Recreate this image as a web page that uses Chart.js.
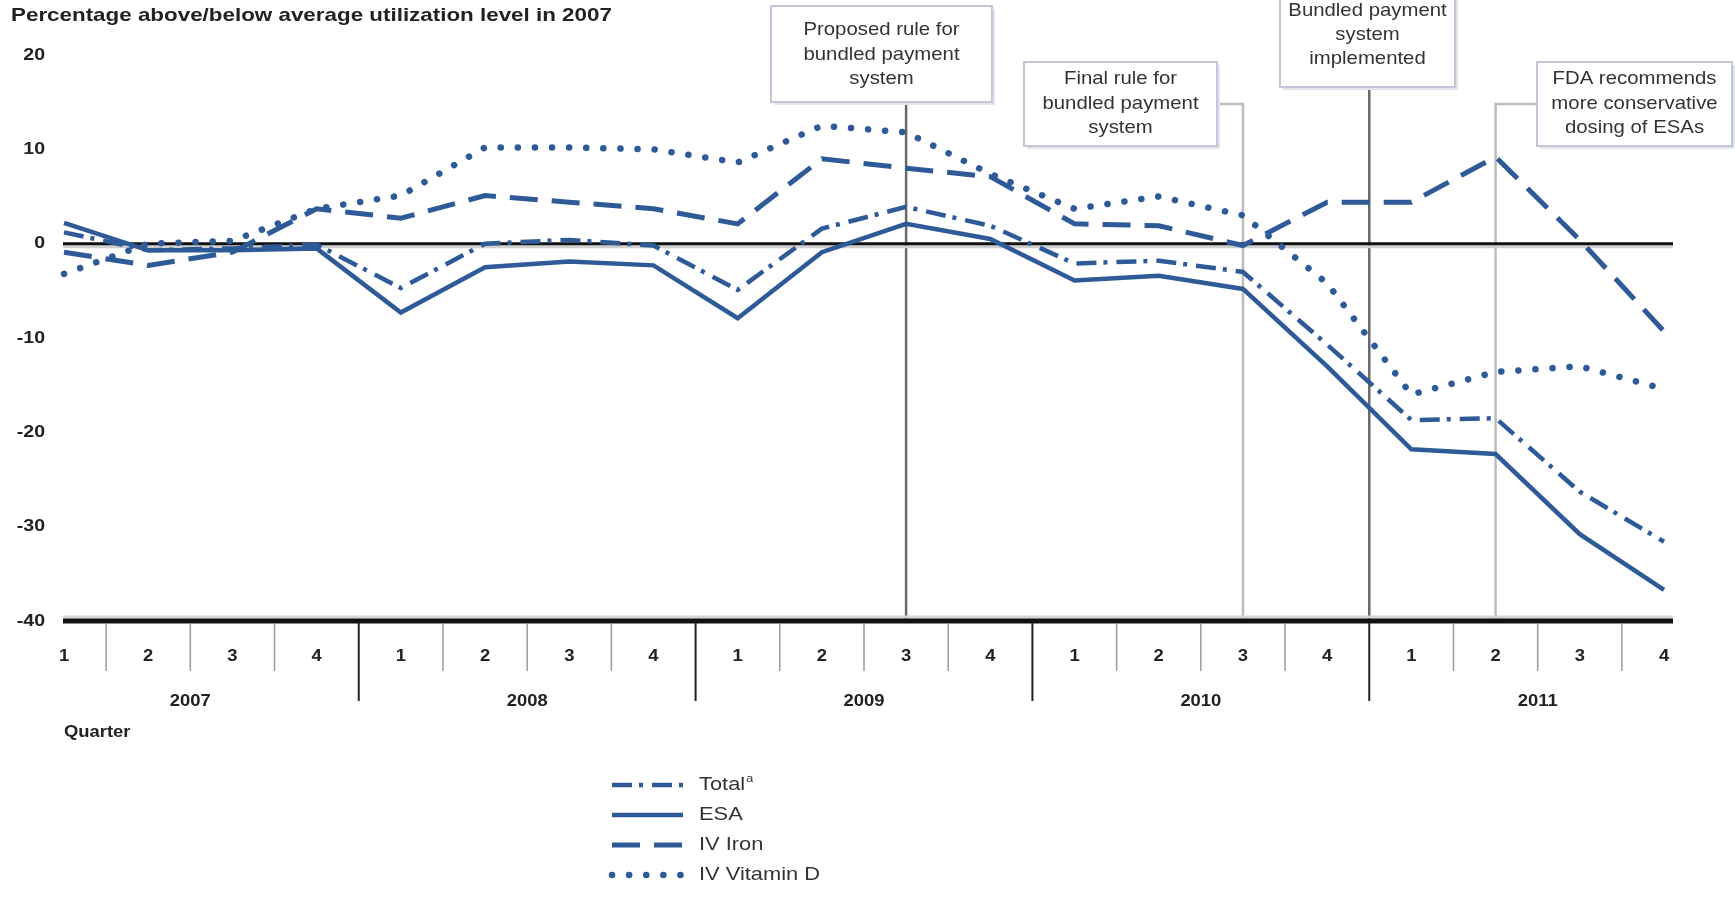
<!DOCTYPE html>
<html>
<head>
<meta charset="utf-8">
<title>Utilization of dialysis drugs, 2007-2011</title>
<script src="https://cdn.jsdelivr.net/npm/chart.js@4.4.1/dist/chart.umd.min.js"></script>
<style>
  html, body { margin: 0; padding: 0; background: #fff; }
  canvas { display: block; }
</style>
</head>
<body>
<canvas id="utilChart" width="1735" height="899"></canvas>
<script>
// datos (porcentaje sobre/bajo el promedio de 2007)
const quarterLabels = ['1', '2', '3', '4', '1', '2', '3', '4', '1', '2', '3', '4',
                       '1', '2', '3', '4', '1', '2', '3', '4'];
const yearLabels = ['2007', '2008', '2009', '2010', '2011'];
const yTicks = [20, 10, 0, -10, -20, -30, -40];

const totalValues = [1.2, -0.7, -0.5, -0.1, -4.7, 0, 0.4, -0.2, -4.9, 1.6,
                     3.9, 1.9, -2.1, -1.8, -3.0, -10.7, -18.7, -18.5, -26.3, -31.6];
const esaValues = [2.2, -0.7, -0.7, -0.5, -7.3, -2.5, -1.9, -2.3, -7.9, -0.9,
                   2.1, 0.5, -3.9, -3.4, -4.8, -13.0, -21.8, -22.3, -30.8, -36.7];
const ironValues = [-0.9, -2.3, -0.9, 3.7, 2.7, 5.1, 4.4, 3.7, 2.1, 9.0,
                    8.0, 7.1, 2.1, 1.9, -0.2, 4.4, 4.4, 9.2, 0.4, -9.3];
const vitaminDValues = [-3.2, 0, 0.3, 3.7, 5.1, 10.2, 10.2, 10.0, 8.6, 12.5,
                        11.8, 7.4, 3.7, 5.0, 3.0, -4.2, -16.0, -13.6, -13.0, -15.4];

// eventos (posición en trimestres desde 2007 T1)
const eventLines = [
    ['Proposed rule for', 'bundled payment', 'system'],
    ['Final rule for', 'bundled payment', 'system'],
    ['Bundled payment', 'system', 'implemented'],
    ['FDA recommends', 'more conservative', 'dosing of ESAs']
];
const eventAt = [10, 14, 15.5, 17];

const BLUE = '#2e5a98';
const FONT = '"Liberation Sans", Arial, sans-serif';

// texto con estiramiento horizontal como en la imagen original
function drawText(ctx, str, x, y, opts) {
    const sx = opts.sx || 1.17;
    ctx.save();
    ctx.font = opts.font;
    ctx.fillStyle = opts.color || '#222';
    ctx.textBaseline = 'middle';
    ctx.textAlign = 'left';
    const w = ctx.measureText(str).width * sx;
    let left = x;
    if (opts.align === 'center') left = x - w / 2;
    if (opts.align === 'right') left = x - w;
    ctx.translate(left, y);
    ctx.scale(sx, 1);
    ctx.fillText(str, 0, 0);
    ctx.restore();
    return w;
}

function line(ctx, x0, y0, x1, y1, color, width) {
    ctx.save();
    ctx.strokeStyle = color;
    ctx.lineWidth = width;
    ctx.beginPath();
    ctx.moveTo(x0, y0);
    ctx.lineTo(x1, y1);
    ctx.stroke();
    ctx.restore();
}

function indexPixel(xs, at) {
    const i = Math.floor(at);
    const a = xs.getPixelForValue(i);
    if (at === i) return a;
    const b = xs.getPixelForValue(i + 1);
    return a + (b - a) * (at - i);
}

// cuadros de anotación
const boxes = [
    { x0: 771, x1: 992, y0: 6, y1: 102, link: 'down', ty: [30, 55, 79] },
    { x0: 1024, x1: 1217, y0: 62, y1: 146, link: 'right', ly: 104, ty: [79, 104, 128] },
    { x0: 1280, x1: 1455, y0: -12, y1: 87, link: 'down', ty: [11, 35, 59] },
    { x0: 1537, x1: 1732, y0: 62, y1: 146, link: 'left', ly: 104, ty: [79, 104, 128] }
];

const decorations = {
    id: 'decorations',
    beforeDatasetsDraw(chart) {
        const ctx = chart.ctx;
        const xs = chart.scales.x;
        const ys = chart.scales.y;
        const left = xs.getPixelForValue(0) - 1;
        const right = xs.getPixelForValue(quarterLabels.length - 1) + 9;
        const yBottom = ys.getPixelForValue(-40);
        const yZero = ys.getPixelForValue(0);

        // título
        drawText(ctx, 'Percentage above/below average utilization level in 2007', 11, 16,
            { font: 'bold 18.5px ' + FONT, sx: 1.21, color: '#222' });

        // etiquetas del eje y
        yTicks.forEach(v => {
            drawText(ctx, String(v), 45, ys.getPixelForValue(v),
                { font: 'bold 17px ' + FONT, sx: 1.15, align: 'right', color: '#222' });
        });

        // líneas de eventos
        boxes.forEach((b, k) => {
            const ex = indexPixel(xs, eventAt[k]);
            if (b.link === 'down') {
                line(ctx, ex, b.y1, ex, yBottom, '#6a6a6a', 2.5);
            } else {
                const bx = b.link === 'right' ? b.x1 : b.x0;
                ctx.save();
                ctx.strokeStyle = '#bdbdbd';
                ctx.lineWidth = 2.5;
                ctx.beginPath();
                ctx.moveTo(bx, b.ly);
                ctx.lineTo(ex, b.ly);
                ctx.lineTo(ex, yBottom);
                ctx.stroke();
                ctx.restore();
            }
        });

        // línea de cero
        line(ctx, left, yZero + 3, right, yZero + 3, '#cfcfcf', 3);
        line(ctx, left, yZero, right, yZero, '#111', 3);
    },
    afterDatasetsDraw(chart) {
        const ctx = chart.ctx;
        const xs = chart.scales.x;
        const ys = chart.scales.y;
        const left = xs.getPixelForValue(0) - 1;
        const right = xs.getPixelForValue(quarterLabels.length - 1) + 9;
        const yBottom = ys.getPixelForValue(-40);

        // eje inferior
        line(ctx, left, yBottom - 4, right, yBottom - 4, '#d6d6d6', 3);
        line(ctx, left, yBottom, right, yBottom, '#111', 5);

        // separadores de trimestres y años
        for (let i = 0; i < quarterLabels.length - 1; i++) {
            const sx = (xs.getPixelForValue(i) + xs.getPixelForValue(i + 1)) / 2;
            if ((i + 1) % 4 === 0) {
                line(ctx, sx, yBottom + 2, sx, yBottom + 80, '#222', 2);
            } else {
                line(ctx, sx, yBottom + 2, sx, yBottom + 50, '#9a9a9a', 1.5);
            }
        }
        quarterLabels.forEach((q, i) => {
            drawText(ctx, q, xs.getPixelForValue(i), yBottom + 36,
                { font: 'bold 16px ' + FONT, sx: 1.15, align: 'center' });
        });
        yearLabels.forEach((yr, k) => {
            const cx = (xs.getPixelForValue(k * 4) + xs.getPixelForValue(k * 4 + 3)) / 2;
            drawText(ctx, yr, cx, yBottom + 81,
                { font: 'bold 16px ' + FONT, sx: 1.15, align: 'center' });
        });
        drawText(ctx, 'Quarter', xs.getPixelForValue(0), yBottom + 112,
            { font: 'bold 16px ' + FONT, sx: 1.15 });

        // cuadros de eventos
        boxes.forEach((b, k) => {
            ctx.save();
            ctx.fillStyle = '#e3e5ee';
            ctx.fillRect(b.x0 + 3, b.y0 + 3, b.x1 - b.x0, b.y1 - b.y0);
            ctx.fillStyle = '#fff';
            ctx.fillRect(b.x0, b.y0, b.x1 - b.x0, b.y1 - b.y0);
            ctx.strokeStyle = '#c3c6da';
            ctx.lineWidth = 2;
            ctx.strokeRect(b.x0, b.y0, b.x1 - b.x0, b.y1 - b.y0);
            ctx.restore();
            const cx = (b.x0 + b.x1) / 2;
            eventLines[k].forEach((t, j) => {
                drawText(ctx, t, cx, b.ty[j],
                    { font: '18.5px ' + FONT, sx: 1.1, align: 'center', color: '#333' });
            });
        });

        // leyenda
        const rows = [785, 815, 845, 875];
        chart.data.datasets.forEach((ds, k) => {
            const y = rows[k];
            ctx.save();
            ctx.strokeStyle = ds.borderColor;
            ctx.lineWidth = ds.borderWidth;
            ctx.lineCap = ds.borderCapStyle || 'butt';
            ctx.setLineDash(ds.borderDash || []);
            ctx.beginPath();
            ctx.moveTo(612, y);
            ctx.lineTo(683, y);
            ctx.stroke();
            ctx.restore();
            const w = drawText(ctx, ds.label, 699, y,
                { font: '19px ' + FONT, sx: 1.15, color: '#333' });
            if (ds.label === 'Total') {
                drawText(ctx, 'a', 699 + w + 1, y - 6,
                    { font: '11px ' + FONT, sx: 1.15, color: '#333' });
            }
        });
    }
};

document.addEventListener('DOMContentLoaded', () => {
    const ctx = document.getElementById('utilChart').getContext('2d');
    new Chart(ctx, {
        type: 'line',
        data: {
            labels: quarterLabels.map((q, i) => yearLabels[Math.floor(i / 4)] + ' Q' + q),
            datasets: [
                { label: 'Total', data: totalValues, borderColor: BLUE, borderWidth: 4.5,
                  borderDash: [20, 7, 4, 9], borderCapStyle: 'butt' },
                { label: 'ESA', data: esaValues, borderColor: BLUE, borderWidth: 4.5,
                  borderDash: [], borderCapStyle: 'butt' },
                { label: 'IV Iron', data: ironValues, borderColor: BLUE, borderWidth: 5,
                  borderDash: [28, 14], borderCapStyle: 'butt' },
                { label: 'IV Vitamin D', data: vitaminDValues, borderColor: BLUE, borderWidth: 6.5,
                  borderDash: [0.1, 17], borderCapStyle: 'round' }
            ]
        },
        options: {
            responsive: false,
            animation: false,
            devicePixelRatio: 1,
            layout: { padding: { left: 64, right: 71, top: 55, bottom: 278 } },
            elements: {
                point: { radius: 0, hoverRadius: 0 },
                line: { tension: 0, fill: false, borderJoinStyle: 'miter' }
            },
            datasets: { line: { clip: false } },
            scales: {
                x: { type: 'category', offset: false, display: false },
                y: { type: 'linear', min: -40, max: 20, display: false }
            },
            plugins: {
                legend: { display: false },
                tooltip: { enabled: false }
            }
        },
        plugins: [decorations]
    });
});
</script>
</body>
</html>
